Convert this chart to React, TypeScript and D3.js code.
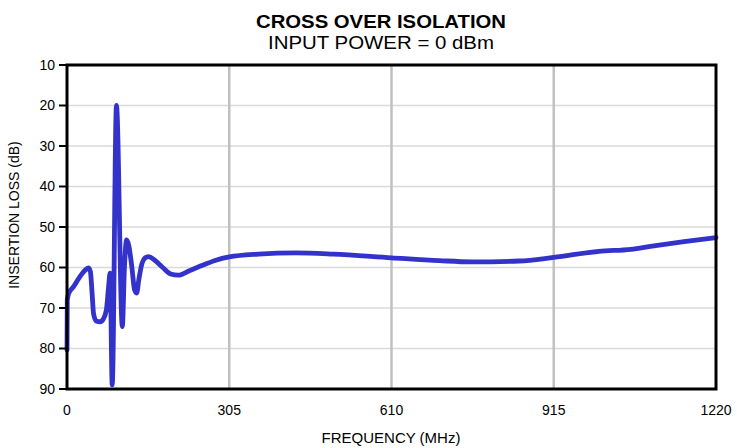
import * as d3 from 'd3'

const freq = [0, 0.5, 3, 12, 24, 33, 40, 44, 47, 50, 55, 62, 68, 74, 78, 81, 85, 93, 104, 108, 112, 116, 122, 127, 131, 135, 141, 147, 153, 165, 180, 195, 209, 230, 256, 280, 305, 360, 430, 500, 610, 700, 760, 850, 915, 1000, 1060, 1100, 1160, 1220]
const loss = [80.4, 68, 66.5, 64.8, 62.3, 60.8, 60.1, 61, 66, 71.5, 73.2, 73.4, 72.8, 70.5, 65, 61.4, 89, 20, 74.6, 60, 53.2, 54.5, 60, 65.5, 66.3, 63, 59, 57.6, 57.3, 58.2, 60, 61.6, 61.9, 60.8, 59.4, 58.2, 57.4, 56.7, 56.4, 56.7, 57.6, 58.3, 58.6, 58.4, 57.5, 56, 55.5, 54.7, 53.6, 52.6]

const xTicks = [0, 305, 610, 915, 1220]
const yTicks = [10, 20, 30, 40, 50, 60, 70, 80, 90]

const W = 737
const H = 448
const margin = { top: 65, right: 21, bottom: 59, left: 67 }
const font = 'Liberation Sans, Arial, sans-serif'

export default function App() {
  const x = d3.scaleLinear().domain([0, 1220]).range([margin.left, W - margin.right])
  const y = d3.scaleLinear().domain([10, 90]).range([margin.top, H - margin.bottom])
  const points = freq.map((f, i) => [f, loss[i]] as [number, number])
  const line = d3
    .line<[number, number]>()
    .x(d => x(d[0]))
    .y(d => y(d[1]))
    .curve(d3.curveMonotoneX)

  return (
    <svg width={W} height={H} style={{ position: 'absolute', left: 0, top: 0, background: '#fff' }} fontFamily={font}>
      {/* horizontal grid */}
      {yTicks.slice(1, -1).map(t => (
        <line key={t} x1={x(0)} x2={x(1220)} y1={y(t)} y2={y(t)} stroke="#d9d9d9" strokeWidth={1.5} />
      ))}
      {/* vertical grid */}
      {xTicks.slice(1, -1).map(t => (
        <line key={t} x1={x(t)} x2={x(t)} y1={y(10)} y2={y(90)} stroke="#c0c0c0" strokeWidth={2.5} />
      ))}
      <path d={line(points) ?? ''} fill="none" stroke="#3333cc" strokeWidth={4.8} strokeLinejoin="round" strokeLinecap="round" />
      {/* frame */}
      <rect x={x(0)} y={y(10)} width={x(1220) - x(0)} height={y(90) - y(10)} fill="none" stroke="#000" strokeWidth={3} />
      {yTicks.map(t => (
        <g key={t}>
          <line x1={x(0) - 8} x2={x(0)} y1={y(t)} y2={y(t)} stroke="#000" strokeWidth={2} />
          <text x={x(0) - 12} y={y(t)} dy="0.35em" textAnchor="end" fontSize={14}>{t}</text>
        </g>
      ))}
      {xTicks.map(t => (
        <text key={t} x={x(t)} y={y(90) + 26} textAnchor="middle" fontSize={14}>{t}</text>
      ))}
      <text x={381} y={28} textAnchor="middle" fontSize={19} fontWeight="bold" textLength={250} lengthAdjust="spacingAndGlyphs">CROSS OVER ISOLATION</text>
      <text x={381} y={49} textAnchor="middle" fontSize={19} textLength={226} lengthAdjust="spacingAndGlyphs">INPUT POWER = 0 dBm</text>
      <text x={391} y={443} textAnchor="middle" fontSize={15}>FREQUENCY (MHz)</text>
      <text transform={`translate(19,215) rotate(-90)`} textAnchor="middle" fontSize={14}>INSERTION LOSS (dB)</text>
    </svg>
  )
}
